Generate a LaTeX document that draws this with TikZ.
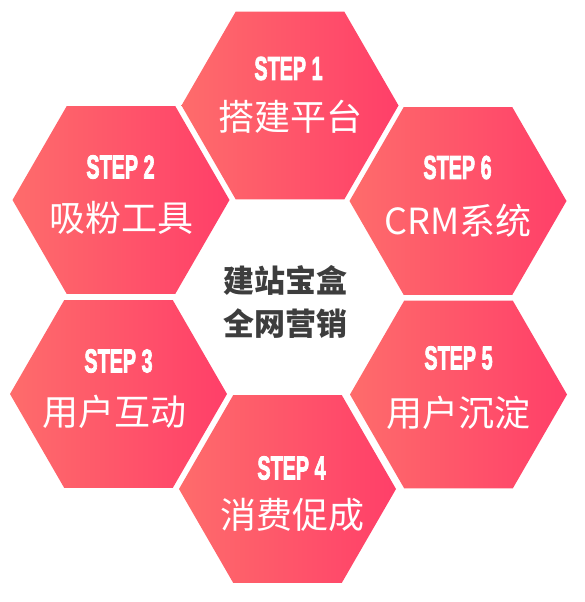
\documentclass[tikz,border=0pt]{standalone}
\usepackage{fontspec}
\usepackage{graphicx}
\usetikzlibrary{shapes.geometric}
\setmainfont{Liberation Sans}
\newfontfamily\cjk{Noto Sans CJK SC}
\newfontfamily\stepfont{Liberation Sans}[FakeBold=3]
\definecolor{hexL}{HTML}{FE6C6B}
\definecolor{hexR}{HTML}{FF3F69}
\definecolor{centerGray}{HTML}{3D3D3D}
\tikzset{
  hexa/.style={regular polygon, regular polygon sides=6, minimum size=217pt,
    inner sep=0pt, outer sep=0pt, left color=hexL, right color=hexR, draw=none},
  steptxt/.style={text=white, inner sep=0pt, font=\stepfont\bfseries\fontsize{33}{33}\selectfont},
  cntxt/.style={text=white, inner sep=0pt, font=\cjk\fontsize{36}{36}\selectfont},
  centertxt/.style={text=centerGray, inner sep=0pt, font=\cjk\bfseries\fontsize{31}{31}\selectfont}
}
\newcommand{\stepname}[1]{\scalebox{0.6}[1]{#1}}
\begin{document}
\begin{tikzpicture}[x=1pt,y=-1pt]
\useasboundingbox (0,0) rectangle (584,602);
% hexagons
\node[hexa] (h1) at (290,105.5) {};
\node[hexa] (h2) at (121,200) {};
\node[hexa] (h6) at (458,201) {};
\node[hexa] (h3) at (118.5,394) {};
\node[hexa] (h5) at (458.5,394.5) {};
\node[hexa] (h4) at (287.5,489) {};
% step labels
\node[steptxt] (s1) at (288.5,68.5) {\stepname{STEP 1}};
\node[cntxt] (c1) at (290,116.5) {搭建平台};
\node[steptxt] (s2) at (120.5,167) {\stepname{STEP 2}};
\node[cntxt] (c2) at (121.5,218) {吸粉工具};
\node[steptxt] (s6) at (457.5,167.5) {\stepname{STEP 6}};
\node[cntxt] (c6) at (458,221) {CRM系统};
\node[steptxt] (s3) at (118.5,361) {\stepname{STEP 3}};
\node[cntxt] (c3) at (114,412) {用户互动};
\node[steptxt] (s5) at (458.5,358) {\stepname{STEP 5}};
\node[cntxt] (c5) at (458.5,413) {用户沉淀};
\node[steptxt] (s4) at (291.5,468) {\stepname{STEP 4}};
\node[cntxt] (c4) at (292.5,515) {消费促成};
% centre
\node[centertxt] (m1) at (285,280.5) {建站宝盒};
\node[centertxt] (m2) at (285,324) {全网营销};
\end{tikzpicture}
\end{document}
